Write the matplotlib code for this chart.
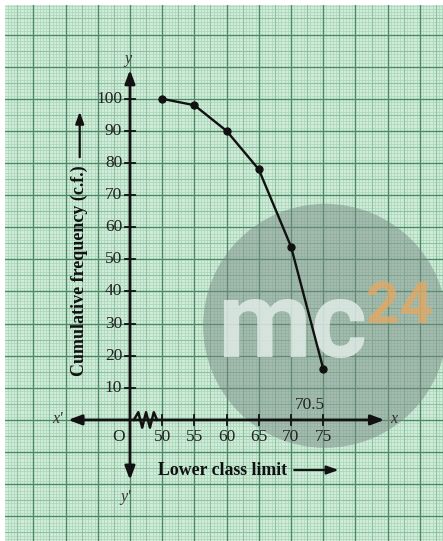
import numpy as np
import matplotlib
matplotlib.use("Agg")
import matplotlib.pyplot as plt
from matplotlib.patches import Ellipse

lower_limits = [50, 55, 60, 65, 70, 75]
cum_freq = [100, 98, 90, 78, 54, 16]
y_ticks = [10, 20, 30, 40, 50, 60, 70, 80, 90, 100]
origin_x = 45  # broken axis: origin drawn one step left of 50

serif = ["Liberation Serif", "DejaVu Serif"]
ink = "#111111"

fig = plt.figure(figsize=(4.43, 5.41), dpi=100, facecolor="white")
ax = fig.add_axes([5 / 443, 0, 438 / 443, 536 / 541])
ax.set_xlim(25.6, 93.6)
ax.set_ylim(-37.7, 129.2)
ax.set_facecolor("#d3ecda")
for s in ax.spines.values():
    s.set_visible(False)
ax.set_xticks([])
ax.set_yticks([])

# graph paper
for gx in np.arange(20, 95.01, 0.5):
    k = round((gx - origin_x) / 0.5)
    if k % 10 == 0:
        ax.axvline(gx, color="#4a8965", lw=1.0, zorder=1)
    elif k % 5 == 0:
        ax.axvline(gx, color="#8cc2a2", lw=0.8, zorder=0.8)
    else:
        ax.axvline(gx, color="#acd9bd", lw=0.6, zorder=0.5)
for gy in np.arange(-40, 131, 1):
    if gy % 10 == 0:
        ax.axhline(gy, color="#4a8965", lw=1.0, zorder=1)
    elif gy % 5 == 0:
        ax.axhline(gy, color="#8cc2a2", lw=0.8, zorder=0.8)
    else:
        ax.axhline(gy, color="#acd9bd", lw=0.6, zorder=0.5)

# watermark
ax.add_patch(Ellipse((75.3, 29.3), 2 * 122 / 6.44, 2 * 122 / 3.211,
                     color="#7a8c86", alpha=0.5, lw=0, zorder=1.5))
ax.text(70.2, 19.6, "mc", fontsize=78, fontweight="bold", color="#e4efea", alpha=0.8,
        ha="center", va="baseline", family=["Roboto", "DejaVu Sans"], zorder=1.6)
ax.text(86.9, 30.2, "24", fontsize=42, fontweight="bold", color="#e8a860", alpha=0.75,
        ha="center", va="baseline", family=["Roboto", "DejaVu Sans"], zorder=1.6)

# axes with arrows
arrow = dict(arrowstyle="<|-|>,head_length=0.8,head_width=0.3", color=ink, lw=2.0,
             shrinkA=0, shrinkB=0)
ax.annotate("", xy=(35.4, 0), xytext=(84.5, 0), arrowprops=arrow, zorder=3)
ax.annotate("", xy=(origin_x, 109), xytext=(origin_x, -18.7), arrowprops=arrow, zorder=3)

# axis break zigzag
zz_x = np.array([45.6, 46.3, 46.9, 47.5, 48.1, 48.7, 49.2])
zz_y = np.array([0, 2.4, -2.4, 2.4, -2.4, 2.4, 0])
ax.plot(zz_x, zz_y, color=ink, lw=1.8, zorder=3)

# ticks and labels
for xv in lower_limits:
    ax.plot([xv, xv], [-1.5, 1.5], color=ink, lw=1.3, zorder=3)
    ax.text(xv, -5.2, str(xv), ha="center", va="center", fontsize=12.5,
            family=serif, color="#222222")
for yv in y_ticks:
    ax.plot([origin_x - 0.8, origin_x + 0.8], [yv, yv], color=ink, lw=1.3, zorder=3)
    ax.text(origin_x - 1.2, yv, str(yv), ha="right", va="center", fontsize=12.5,
            family=serif, color="#222222")

ax.text(origin_x - 1.8, -5.2, "O", ha="center", va="center", fontsize=12.5,
        family=serif, color="#222222")
ax.text(33.8, 0.3, "x\u2032", ha="center", va="center", fontsize=11.5, family=serif,
        style="italic", color="#333333")
ax.text(86.0, 0.3, "x", ha="center", va="center", fontsize=11.5, family=serif,
        style="italic", color="#333333")
ax.text(origin_x - 0.3, 112.5, "y", ha="center", va="center", fontsize=11.5,
        family=serif, style="italic", color="#333333")
ax.text(origin_x - 0.6, -24, "y\u2032", ha="center", va="center", fontsize=11.5,
        family=serif, style="italic", color="#333333")
ax.text(72.9, 4.8, "70.5", ha="center", va="center", fontsize=12.5, family=serif,
        color="#222222")

# axis titles
ax.text(37.2, 46.5, "Cumulative frequency (c.f.)", rotation=90, ha="center",
        va="center", fontsize=13, fontweight="bold", family=serif, color="#111111")
ax.annotate("", xy=(37.2, 96), xytext=(37.2, 81.8),
            arrowprops=dict(arrowstyle="-|>,head_length=0.7,head_width=0.25",
                            color=ink, lw=1.6, shrinkA=0, shrinkB=0))
ax.text(59.4, -15.6, "Lower class limit", ha="center", va="center", fontsize=12.8,
        fontweight="bold", family=serif, color="#111111")
ax.annotate("", xy=(77.4, -15.6), xytext=(70.5, -15.6),
            arrowprops=dict(arrowstyle="-|>,head_length=0.7,head_width=0.25",
                            color=ink, lw=1.6, shrinkA=0, shrinkB=0))

# the ogive
ax.plot(lower_limits, cum_freq, color=ink, lw=1.7, marker="o", markersize=5, zorder=4)

fig.savefig("out.png", dpi=100, facecolor=fig.get_facecolor())
